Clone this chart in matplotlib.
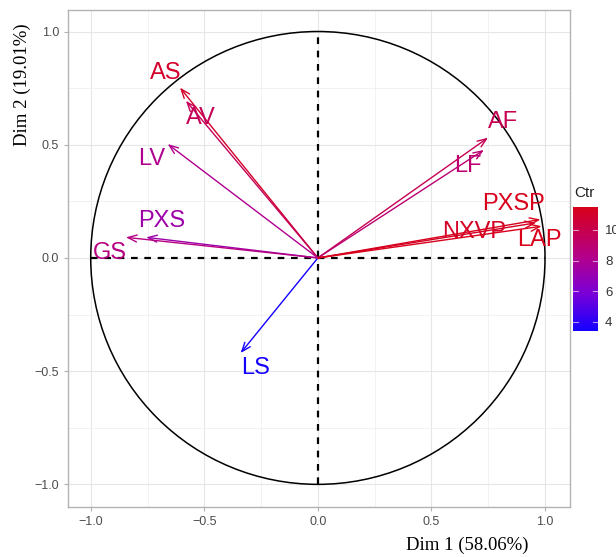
import numpy as np
import matplotlib.pyplot as plt
from matplotlib.colors import LinearSegmentedColormap, Normalize
from matplotlib.patches import Circle

# Coordenadas de las variables sobre Dim 1 y Dim 2
variables = ["AS", "AV", "LV", "PXS", "GS", "LS", "AF", "LF", "PXSP", "NXVP", "LAP"]
dim1 = [-0.607, -0.581, -0.661, -0.756, -0.845, -0.340, 0.749, 0.731, 0.980, 0.960, 0.985]
dim2 = [0.752, 0.694, 0.503, 0.091, 0.091, -0.420, 0.531, 0.477, 0.170, 0.155, 0.140]
ctr = [11.0, 9.7, 8.1, 7.3, 8.5, 3.4, 9.9, 9.0, 11.5, 11.2, 11.5]

# Posicion de las etiquetas
labelX = [-0.672, -0.514, -0.730, -0.686, -0.914, -0.273, 0.813, 0.659, 0.862, 0.686, 0.976]
labelY = [0.817, 0.618, 0.437, 0.163, 0.022, -0.486, 0.600, 0.406, 0.238, 0.115, 0.079]

ticks = [-1.0, -0.5, 0.0, 0.5, 1.0]
ctrTicks = [4, 6, 8, 10]

cmap = LinearSegmentedColormap.from_list(
    "ctr", [(0.0, "#1400FF"), (0.3, "#7A00D8"), (0.6, "#B4008A"), (1.0, "#D8001A")])
norm = Normalize(vmin=3.4, vmax=11.5)

fig = plt.figure(figsize=(6.16, 5.57), dpi=100)
ax = fig.add_axes([68 / 616, 50 / 557, 502 / 616, 497 / 557])

# Rejilla estilo ggplot
ax.set_xlim(-1.1, 1.11)
ax.set_ylim(-1.1, 1.095)
ax.set_xticks(ticks)
ax.set_yticks(ticks)
ax.set_xticklabels(["\u22121.0", "\u22120.5", "0.0", "0.5", "1.0"])
ax.set_yticklabels(["\u22121.0", "\u22120.5", "0.0", "0.5", "1.0"])
ax.set_xticks(np.arange(-0.75, 1.0, 0.5), minor=True)
ax.set_yticks(np.arange(-0.75, 1.0, 0.5), minor=True)
ax.grid(True, which="major", color="#E6E6E6", lw=0.8)
ax.grid(True, which="minor", color="#F0F0F0", lw=0.6)
ax.set_axisbelow(True)
ax.tick_params(which="major", colors="#B3B3B3", labelcolor="#4D4D4D", labelsize=9,
               length=3, width=0.8)
ax.tick_params(which="minor", length=0)
for t in ax.get_xticklabels() + ax.get_yticklabels():
    t.set_fontfamily("Liberation Sans")
for s in ax.spines.values():
    s.set_color("#B3B3B3")
    s.set_linewidth(1.0)

# Circulo de correlacion y ejes punteados
ax.add_patch(Circle((0, 0), 1.0, fill=False, color="black", lw=1.1))
ax.plot([-1, 1], [0, 0], color="black", lw=1.6, ls=(0, (3, 3)))
ax.plot([0, 0], [-1, 1], color="black", lw=1.6, ls=(0, (3, 3)))

# Flechas y etiquetas
for i, name in enumerate(variables):
    col = cmap(norm(ctr[i]))
    ax.annotate("", xy=(dim1[i], dim2[i]), xytext=(0, 0),
                arrowprops=dict(arrowstyle="->,head_length=0.65,head_width=0.25",
                                color=col, lw=1.0, shrinkA=0, shrinkB=0))
    ax.text(labelX[i], labelY[i], name, color=col, fontsize=17, ha="center", va="center",
            family="Liberation Sans")

fig.text(22 / 616, 1 - 85 / 557, "Dim 2 (19.01%)", rotation=90, ha="center", va="center",
         fontsize=13.5, family="Liberation Serif")
fig.text(467 / 616, 1 - 545 / 557, "Dim 1 (58.06%)", ha="center", va="center",
         fontsize=13.5, family="Liberation Serif")

# Barra de color
cax = fig.add_axes([573 / 616, (557 - 331) / 557, 25 / 616, 124 / 557])
grad = np.linspace(norm.vmin, norm.vmax, 256).reshape(-1, 1)
cax.imshow(grad, aspect="auto", cmap=cmap, norm=norm, origin="lower",
           extent=[0, 1, norm.vmin, norm.vmax])
cax.set_xlim(0, 1)
cax.set_ylim(norm.vmin, norm.vmax)
cax.set_xticks([])
cax.set_yticks(ctrTicks)
cax.yaxis.tick_right()
cax.tick_params(axis="y", length=0, labelsize=9.5, labelcolor="#333333", pad=5)
for t in cax.get_yticklabels():
    t.set_fontfamily("Liberation Sans")
for v in ctrTicks:
    cax.plot([0, 0.2], [v, v], color="white", lw=0.8, alpha=0.6)
    cax.plot([0.8, 1], [v, v], color="white", lw=0.8, alpha=0.6)
for s in cax.spines.values():
    s.set_visible(False)
fig.text(574 / 616, 1 - 193 / 557, "Ctr", ha="left", va="center", fontsize=11,
         family="Liberation Sans", color="#222222")

fig.savefig("out.png", dpi=100)
